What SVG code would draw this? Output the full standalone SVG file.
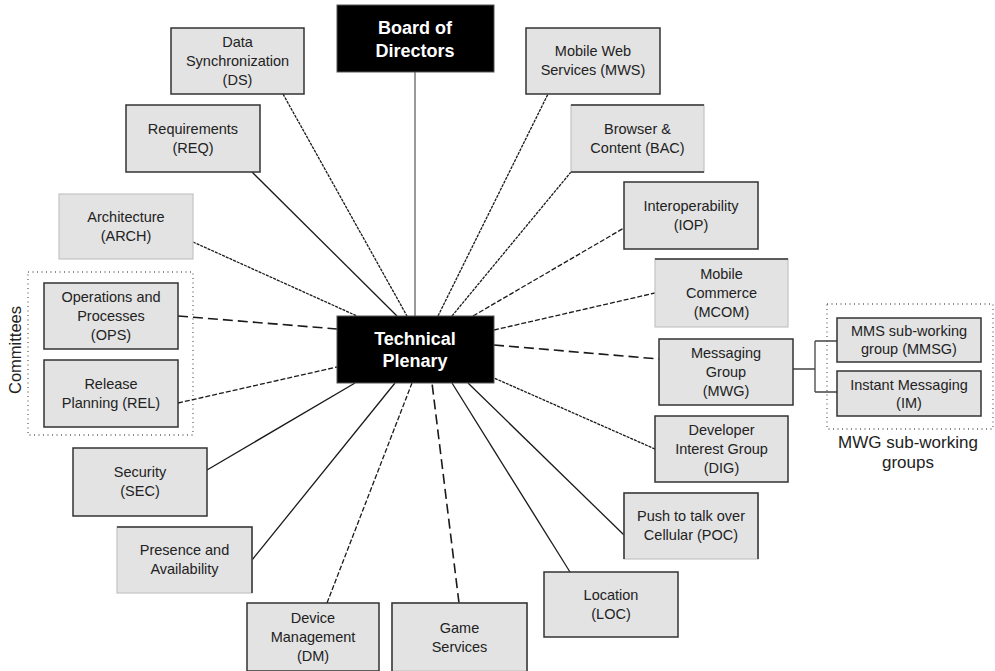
<svg xmlns="http://www.w3.org/2000/svg" width="995" height="671" viewBox="0 0 995 671">
  <style>
    .box { fill: #e3e3e3; stroke: #333; stroke-width: 1.5; }
    .soft { fill: #e3e3e3; stroke: #c4c4c4; stroke-width: 1.2; }
    .edge { fill: none; stroke: #333; stroke-width: 1.5; }
    .dark { fill: #000; stroke: #555; stroke-width: 1; }
    .lbl { font-family: "Liberation Sans", Arial, sans-serif; font-size: 14.5px; fill: #222; text-anchor: middle; }
    .head { font-family: "Liberation Sans", Arial, sans-serif; font-size: 18px; font-weight: bold; fill: #fff; text-anchor: middle; }
    .cap { font-family: "Liberation Sans", Arial, sans-serif; font-size: 17px; fill: #222; text-anchor: middle; }
    .link { fill: none; stroke: #1a1a1a; stroke-width: 1.3; }
    .fine { stroke-dasharray: 3 1; }
    .dash { stroke-dasharray: 5 2; }
    .long { stroke-dasharray: 10 5; stroke-width: 1.6; }
    .trunk { fill: none; stroke: #777; stroke-width: 1.5; }
    .frame { fill: none; stroke: #666; stroke-width: 1.3; stroke-dasharray: 1 3.5; }
    .tree { fill: none; stroke: #444; stroke-width: 1.3; }
  </style>

  <!-- group outlines -->
  <g id="groups">
    <rect class="frame" x="28" y="272" width="165" height="163"/>
    <rect class="frame" x="827" y="304" width="166" height="125"/>
    <text class="cap" transform="translate(21,350) rotate(-90)" style="font-size:16.5px">Committees</text>
    <text class="cap" x="908" y="448">MWG sub-working</text>
    <text class="cap" x="908" y="468">groups</text>
  </g>

  <!-- connectors from the Technical Plenary -->
  <g id="connectors">
    <line class="trunk" x1="415" y1="72" x2="415" y2="316"/>
    <line class="link fine" x1="283" y1="94" x2="407" y2="316"/>
    <line class="link" x1="252" y1="172" x2="397" y2="316"/>
    <line class="link fine" x1="193" y1="242" x2="357" y2="316"/>
    <line class="link long" x1="178" y1="316" x2="337" y2="329"/>
    <line class="link dash" x1="178" y1="403" x2="337" y2="367"/>
    <line class="link" x1="207" y1="470" x2="355" y2="383"/>
    <line class="link" x1="252" y1="560" x2="395" y2="383"/>
    <line class="link dash" x1="327" y1="603" x2="412" y2="383"/>
    <line class="link long" x1="459" y1="603" x2="432" y2="383"/>
    <line class="link" x1="570" y1="572" x2="452" y2="383"/>
    <line class="link" x1="624" y1="535" x2="468" y2="383"/>
    <line class="link fine" x1="655" y1="449" x2="494" y2="378"/>
    <line class="link long" x1="494" y1="345" x2="659" y2="359"/>
    <line class="link dash" x1="494" y1="330" x2="655" y2="293"/>
    <line class="link dash" x1="473" y1="316" x2="624" y2="228"/>
    <line class="link fine" x1="452" y1="316" x2="571" y2="172"/>
    <line class="link fine" x1="438" y1="316" x2="548" y2="94"/>
    <!-- MWG to its sub-working groups -->
    <path class="tree" d="M793,369 H815 M815,341 V392 M815,341 H837 M815,392 H837"/>
  </g>

  <g id="board">
    <rect class="dark" x="337" y="5" width="157" height="67"/>
    <text class="head" x="415" y="34">Board of</text>
    <text class="head" x="415" y="57">Directors</text>
  </g>

  <g id="plenary">
    <rect class="dark" x="337" y="316" width="157" height="67"/>
    <text class="head" x="415" y="345">Technical</text>
    <text class="head" x="415" y="367">Plenary</text>
  </g>

  <g id="ds">
    <rect class="box" x="171" y="28" width="133" height="66"/>
    <text class="lbl" x="237.5" y="47">Data</text>
    <text class="lbl" x="237.5" y="66">Synchronization</text>
    <text class="lbl" x="237.5" y="85">(DS)</text>
  </g>

  <g id="req">
    <rect class="box" x="126" y="105" width="134" height="67"/>
    <text class="lbl" x="193" y="134">Requirements</text>
    <text class="lbl" x="193" y="153">(REQ)</text>
  </g>

  <g id="arch">
    <rect class="soft" x="59" y="194" width="134" height="65"/>
    <text class="lbl" x="126" y="222">Architecture</text>
    <text class="lbl" x="126" y="241">(ARCH)</text>
  </g>

  <g id="ops">
    <rect class="box" x="44" y="283" width="134" height="66"/>
    <text class="lbl" x="111" y="302">Operations and</text>
    <text class="lbl" x="111" y="321">Processes</text>
    <text class="lbl" x="111" y="340">(OPS)</text>
  </g>

  <g id="rel">
    <rect class="box" x="44" y="360" width="134" height="67"/>
    <text class="lbl" x="111" y="389">Release</text>
    <text class="lbl" x="111" y="408">Planning (REL)</text>
  </g>

  <g id="sec">
    <rect class="box" x="73" y="448" width="134" height="68"/>
    <text class="lbl" x="140" y="477">Security</text>
    <text class="lbl" x="140" y="496">(SEC)</text>
  </g>

  <g id="pa">
    <rect class="soft" x="117" y="527" width="135" height="66"/>
    <path class="edge" d="M117,527 H252 V593"/>
    <text class="lbl" x="184.5" y="555">Presence and</text>
    <text class="lbl" x="184.5" y="574">Availability</text>
  </g>

  <g id="dm">
    <rect class="box" x="247" y="603" width="132" height="68"/>
    <text class="lbl" x="313" y="623">Device</text>
    <text class="lbl" x="313" y="642">Management</text>
    <text class="lbl" x="313" y="661">(DM)</text>
  </g>

  <g id="game">
    <rect class="soft" x="392" y="603" width="135" height="68"/>
    <path class="edge" d="M392,671 V603 H527 V671"/>
    <text class="lbl" x="459.5" y="633">Game</text>
    <text class="lbl" x="459.5" y="652">Services</text>
  </g>

  <g id="loc">
    <rect class="box" x="544" y="572" width="134" height="65"/>
    <text class="lbl" x="611" y="600">Location</text>
    <text class="lbl" x="611" y="619">(LOC)</text>
  </g>

  <g id="poc">
    <rect class="soft" x="624" y="493" width="134" height="66"/>
    <path class="edge" d="M624,559 V493 H758 V559"/>
    <text class="lbl" x="691" y="521">Push to talk over</text>
    <text class="lbl" x="691" y="540">Cellular (POC)</text>
  </g>

  <g id="dig">
    <rect class="box" x="655" y="416" width="133" height="66"/>
    <text class="lbl" x="721.5" y="435">Developer</text>
    <text class="lbl" x="721.5" y="454">Interest Group</text>
    <text class="lbl" x="721.5" y="473">(DIG)</text>
  </g>

  <g id="mwg">
    <rect class="box" x="659" y="339" width="134" height="66"/>
    <text class="lbl" x="726" y="358">Messaging</text>
    <text class="lbl" x="726" y="377">Group</text>
    <text class="lbl" x="726" y="396">(MWG)</text>
  </g>

  <g id="mcom">
    <rect class="soft" x="655" y="259" width="133" height="68"/>
    <path class="edge" d="M655,259 H788"/>
    <text class="lbl" x="721.5" y="279">Mobile</text>
    <text class="lbl" x="721.5" y="298">Commerce</text>
    <text class="lbl" x="721.5" y="317">(MCOM)</text>
  </g>

  <g id="iop">
    <rect class="box" x="624" y="182" width="134" height="67"/>
    <text class="lbl" x="691" y="211">Interoperability</text>
    <text class="lbl" x="691" y="230">(IOP)</text>
  </g>

  <g id="bac">
    <rect class="soft" x="571" y="105" width="133" height="67"/>
    <path class="edge" d="M571,105 H704 M571,172 H704"/>
    <text class="lbl" x="637.5" y="134">Browser &amp;</text>
    <text class="lbl" x="637.5" y="153">Content (BAC)</text>
  </g>

  <g id="mws">
    <rect class="box" x="526" y="28" width="134" height="66"/>
    <text class="lbl" x="593" y="56">Mobile Web</text>
    <text class="lbl" x="593" y="75">Services (MWS)</text>
  </g>

  <g id="mmsg">
    <rect class="box" x="837" y="318" width="144" height="44"/>
    <text class="lbl" x="909" y="336">MMS sub-working</text>
    <text class="lbl" x="909" y="354">group (MMSG)</text>
  </g>

  <g id="im">
    <rect class="box" x="837" y="371" width="144" height="45"/>
    <text class="lbl" x="909" y="390">Instant Messaging</text>
    <text class="lbl" x="909" y="408">(IM)</text>
  </g>
</svg>
